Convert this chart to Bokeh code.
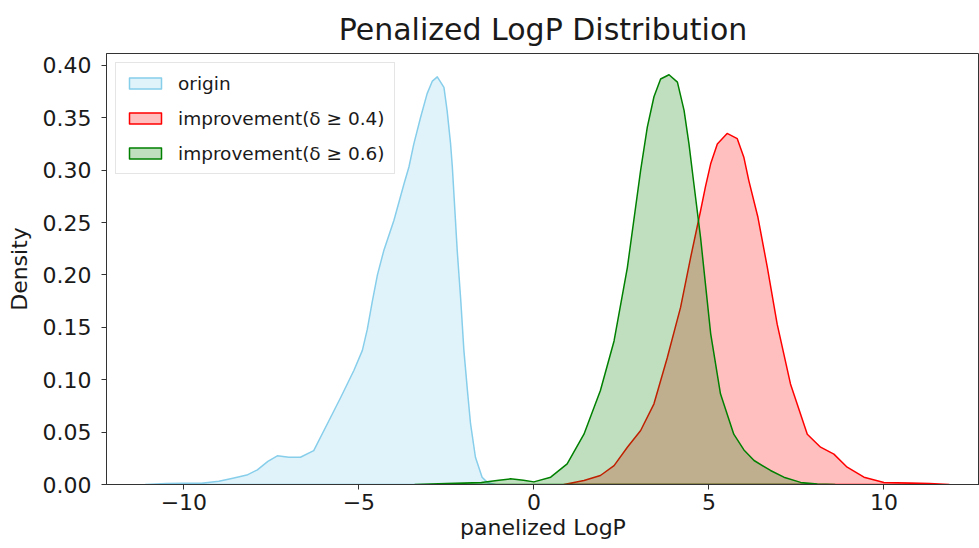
from bokeh.plotting import figure
from bokeh.models import Range1d, FixedTicker, PrintfTickFormatter, Legend, LegendItem
from bokeh.embed import file_html
from bokeh.resources import INLINE

# ---- data ----
origin_x = [-11.1, -10.5, -10.0, -9.5, -9.0, -8.6, -8.2, -7.9, -7.6, -7.33, -7.0, -6.67,
            -6.29, -5.9, -5.52, -5.14, -4.9, -4.76, -4.62, -4.47, -4.29, -4.0, -3.71, -3.57,
            -3.43, -3.24, -3.05, -2.9, -2.76, -2.57, -2.48, -2.38, -2.33, -2.19, -2.09,
            -2.0, -1.9, -1.81, -1.67, -1.48, -1.33, -1.1]
origin_y = [0.0, 0.001, 0.0013, 0.0012, 0.003, 0.006, 0.009, 0.014, 0.022, 0.0274, 0.026, 0.026,
            0.0324, 0.058, 0.083, 0.109, 0.128, 0.148, 0.174, 0.200, 0.223, 0.252, 0.287, 0.303,
            0.325, 0.350, 0.373, 0.385, 0.389, 0.379, 0.357, 0.325, 0.303, 0.223, 0.176,
            0.128, 0.090, 0.058, 0.026, 0.007, 0.002, 0.0]

imp04_x = [0.86, 1.43, 1.9, 2.29, 2.67, 3.05, 3.43, 3.81, 4.19, 4.48, 4.76, 4.9, 5.05,
           5.24, 5.52, 5.81, 6.0, 6.14, 6.4, 6.67, 6.95, 7.33, 7.81, 8.19, 8.57, 8.95,
           9.43, 10.0, 10.76, 11.3, 11.86]
imp04_y = [0.0, 0.0038, 0.0086, 0.018, 0.0356, 0.0515, 0.077, 0.121, 0.169, 0.217, 0.261,
           0.284, 0.306, 0.325, 0.335, 0.330, 0.312, 0.290, 0.255, 0.207, 0.153, 0.096,
           0.048, 0.0356, 0.029, 0.0165, 0.007, 0.002, 0.0015, 0.001, 0.0]

imp06_x = [-3.4, -2.5, -1.5, -1.0, -0.67, -0.3, 0.0, 0.48, 0.95, 1.43, 1.9, 2.29, 2.67,
           3.05, 3.24, 3.43, 3.62, 3.86, 4.1, 4.29, 4.43, 4.57, 4.76, 5.05, 5.33, 5.71,
           6.0, 6.29, 6.76, 7.14, 7.62, 8.1, 8.6]
imp06_y = [0.0, 0.001, 0.002, 0.004, 0.0054, 0.004, 0.0025, 0.007, 0.0197, 0.048, 0.0897,
           0.137, 0.207, 0.300, 0.341, 0.370, 0.387, 0.391, 0.384, 0.357, 0.325, 0.287,
           0.236, 0.144, 0.0865, 0.048, 0.033, 0.0229, 0.0134, 0.007, 0.002, 0.0005, 0.0]

series_labels = ["origin", "improvement(δ ≥ 0.4)", "improvement(δ ≥ 0.6)"]
series_colors = ["#87CEEB", "#FF0000", "#008000"]

x_ticks = [-10, -5, 0, 5, 10]
x_tick_labels = ["\u221210", "\u22125", "0", "5", "10"]
y_ticks = [0.0, 0.05, 0.10, 0.15, 0.20, 0.25, 0.30, 0.35, 0.40]

title_text = "Penalized LogP Distribution"
x_label = "panelized LogP"
y_label = "Density"

FONT = "DejaVu Sans"
TXT = "#1a1a1a"

p = figure(width=979, height=548, output_backend="svg", toolbar_location=None,
           x_range=Range1d(-12.21, 12.73), y_range=Range1d(0.0, 0.4113),
           min_border_left=106, min_border_right=0, min_border_top=53, min_border_bottom=64)

p.title.text = title_text
p.title.text_font = FONT
p.title.text_font_size = "30px"
p.title.text_font_style = "normal"
p.title.text_color = TXT
p.title.align = "center"
p.title.standoff = 13

p.xgrid.visible = False
p.ygrid.visible = False
p.outline_line_color = "#333333"
p.outline_line_width = 1
p.background_fill_color = "white"
p.border_fill_color = "white"

for ax in (p.xaxis[0], p.yaxis[0]):
    ax.axis_line_color = "#333333"
    ax.major_tick_line_color = "#333333"
    ax.major_tick_out = 5
    ax.major_tick_in = 0
    ax.minor_tick_line_color = None
    ax.major_label_text_font = FONT
    ax.major_label_text_font_size = "22px"
    ax.major_label_text_color = TXT
    ax.axis_label_text_font = FONT
    ax.axis_label_text_font_size = "22px"
    ax.axis_label_text_font_style = "normal"
    ax.axis_label_text_color = TXT

p.xaxis.ticker = FixedTicker(ticks=x_ticks)
p.xaxis.major_label_overrides = {t: l for t, l in zip(x_ticks, x_tick_labels)}
p.xaxis.axis_label = x_label
p.xaxis.major_label_standoff = 4
p.xaxis.axis_label_standoff = 2

p.yaxis.ticker = FixedTicker(ticks=y_ticks)
p.yaxis.formatter = PrintfTickFormatter(format="%.2f")
p.yaxis.axis_label = y_label
p.yaxis.major_label_standoff = 10
p.yaxis.axis_label_standoff = 8

renderers = []
for xs, ys, col in [(origin_x, origin_y, series_colors[0]),
                    (imp04_x, imp04_y, series_colors[1]),
                    (imp06_x, imp06_y, series_colors[2])]:
    r = p.patch(xs, ys, fill_color=col, fill_alpha=0.25, line_color=col, line_width=1.5,
                line_join="round")
    renderers.append(r)

legend = Legend(items=[LegendItem(label=lab, renderers=[r]) for lab, r in zip(series_labels, renderers)],
                location="top_left")
legend.label_text_font = FONT
legend.label_text_font_size = "18.5px"
legend.label_text_color = TXT
legend.glyph_width = 40
legend.glyph_height = 14
legend.label_height = 22
legend.label_standoff = 13
legend.spacing = 13
legend.padding = 9
legend.margin = 9
legend.border_line_color = "#cccccc"
legend.border_line_width = 1
legend.background_fill_color = "white"
legend.background_fill_alpha = 0.8
p.add_layout(legend)

open("out.html", "w").write(file_html(p, INLINE))
